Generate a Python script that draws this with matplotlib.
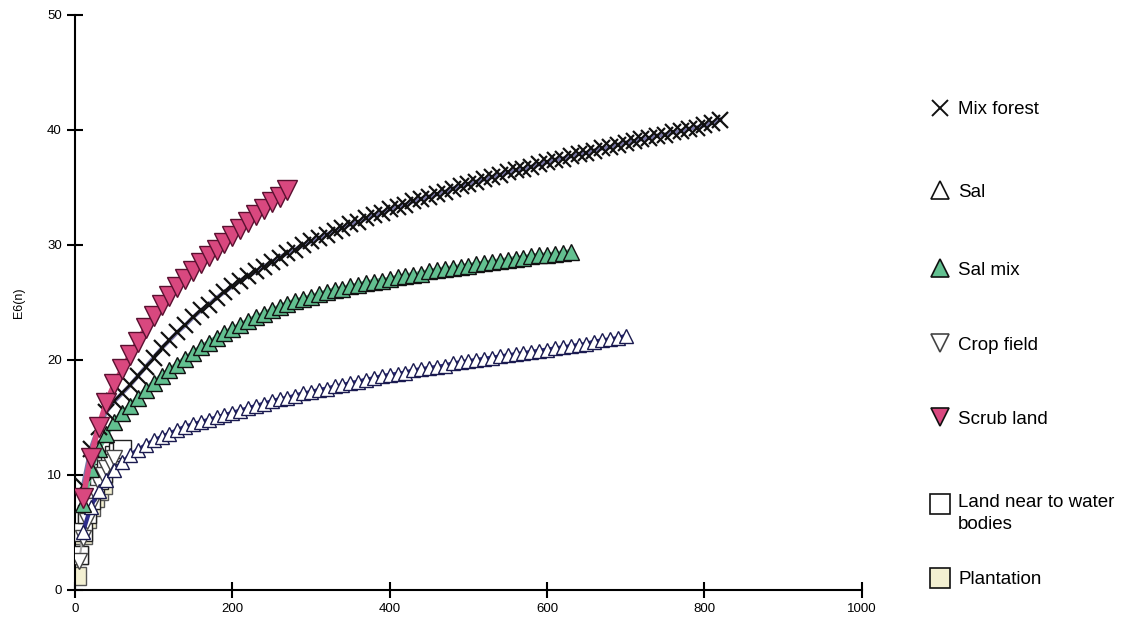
import matplotlib
matplotlib.use("Agg")
from matplotlib import pyplot as plt
from matplotlib.lines import Line2D

plt.rcParams['font.family'] = ['Liberation Sans', 'DejaVu Sans']

# sample size n (step 10) and expected species E(n)
mix_n = list(range(10, 830, 10))
mix_e = [9.0, 12.3, 14.2, 15.5, 16.4, 17.1, 17.8, 18.6, 19.4, 20.2,
         21.0, 21.7, 22.4, 23.0, 23.7, 24.3, 24.8, 25.4, 25.9, 26.4,
         26.9, 27.3, 27.7, 28.1, 28.5, 28.9, 29.3, 29.6, 30.0, 30.3,
         30.6, 30.9, 31.2, 31.5, 31.8, 32.0, 32.3, 32.6, 32.8, 33.1,
         33.3, 33.5, 33.8, 34.0, 34.2, 34.4, 34.6, 34.9, 35.1, 35.3,
         35.5, 35.7, 35.9, 36.1, 36.3, 36.5, 36.6, 36.8, 37.0, 37.2,
         37.4, 37.5, 37.7, 37.9, 38.0, 38.2, 38.4, 38.5, 38.7, 38.9,
         39.0, 39.2, 39.3, 39.5, 39.6, 39.8, 39.9, 40.1, 40.2, 40.4,
         40.6, 40.9]

salmix_n = list(range(10, 640, 10))
salmix_e = [7.5, 10.5, 12.3, 13.6, 14.6, 15.4, 16.0, 16.7, 17.4, 18.0,
            18.6, 19.1, 19.6, 20.1, 20.6, 21.1, 21.5, 21.9, 22.3, 22.7,
            23.0, 23.4, 23.7, 24.0, 24.3, 24.6, 24.9, 25.1, 25.3, 25.5,
            25.7, 25.9, 26.1, 26.2, 26.4, 26.5, 26.7, 26.8, 26.9, 27.0,
            27.2, 27.3, 27.4, 27.5, 27.7, 27.8, 27.9, 28.0, 28.1, 28.2,
            28.3, 28.4, 28.5, 28.6, 28.7, 28.8, 28.9, 29.0, 29.1, 29.1,
            29.2, 29.3, 29.4]

sal_n = list(range(10, 710, 10))
sal_e = [5.0, 7.2, 8.6, 9.6, 10.4, 11.1, 11.7, 12.2, 12.6, 13.0,
         13.3, 13.6, 13.9, 14.2, 14.4, 14.6, 14.8, 15.0, 15.2, 15.4,
         15.6, 15.8, 16.0, 16.2, 16.4, 16.6, 16.7, 16.9, 17.1, 17.2,
         17.4, 17.5, 17.7, 17.8, 18.0, 18.1, 18.3, 18.4, 18.6, 18.7,
         18.8, 18.9, 19.1, 19.2, 19.3, 19.4, 19.5, 19.7, 19.8, 19.9,
         20.0, 20.1, 20.2, 20.3, 20.4, 20.5, 20.6, 20.7, 20.8, 20.9,
         21.0, 21.1, 21.2, 21.3, 21.4, 21.6, 21.7, 21.8, 21.9, 22.1]

scrub_n = list(range(10, 280, 10))
scrub_e = [8.0, 11.5, 14.2, 16.3, 17.9, 19.2, 20.4, 21.6, 22.8, 23.8,
           24.8, 25.6, 26.3, 27.0, 27.7, 28.4, 29.0, 29.6, 30.2, 30.8,
           31.4, 32.0, 32.6, 33.1, 33.7, 34.2, 34.8]

crop_n = [5, 10, 15, 20, 25, 30, 35, 40, 45, 50]
crop_e = [2.5, 4.5, 6.0, 7.3, 8.4, 9.3, 10.0, 10.6, 11.1, 11.5]

water_n = [5, 10, 15, 20, 25, 30, 35, 40, 45, 50, 55, 60]
water_e = [3.0, 5.0, 6.6, 7.8, 8.8, 9.6, 10.2, 10.8, 11.3, 11.7, 12.0, 12.3]

plant_n = [2, 5, 10, 15, 20, 25, 30, 35]
plant_e = [1.2, 3.0, 4.8, 6.2, 7.2, 8.0, 8.6, 9.1]

labels = ['Mix forest', 'Sal', 'Sal mix', 'Crop field', 'Scrub land',
          'Land near to water\nbodies', 'Plantation']

pink = '#d9487f'
green = '#62c090'
navy = '#2e2e8c'
cream = '#f3f0d2'

fig = plt.figure(figsize=(11.24, 6.39), dpi=100)
ax = fig.add_axes([0.0667, 0.0767, 0.70, 0.90])

ax.plot(plant_n, plant_e, marker='s', ms=13, color='#b8b8a0', lw=1.5,
        mfc=cream, mec='#555555', mew=1, zorder=2)
ax.plot(water_n, water_e, marker='s', ms=13, color='#999999', lw=1.5,
        mfc='white', mec='#222222', mew=1, zorder=3)
ax.plot(crop_n, crop_e, marker='v', ms=12, color='#aaaaaa', lw=1.5,
        mfc='white', mec='#444444', mew=1, zorder=3)
ax.plot(sal_n, sal_e, marker='^', ms=10, color=navy, lw=3,
        mfc='white', mec='#1a1a50', mew=1, zorder=4)
ax.plot(salmix_n, salmix_e, marker='^', ms=12, color=green, lw=4,
        mfc=green, mec='#111111', mew=1, zorder=5)
ax.plot(mix_n, mix_e, marker='x', ms=11, color='#7a78a8', lw=3,
        mec='#111111', mew=1.6, zorder=6)
ax.plot(scrub_n, scrub_e, marker='v', ms=15, color=pink, lw=4,
        mfc=pink, mec='#5a1030', mew=1, zorder=7)

ax.set_xlim(0, 1000)
ax.set_ylim(0, 50)
ax.set_xticks([0, 200, 400, 600, 800, 1000])
ax.set_yticks([0, 10, 20, 30, 40, 50])
ax.spines['top'].set_visible(False)
ax.spines['right'].set_visible(False)
ax.spines['left'].set_linewidth(1.5)
ax.spines['bottom'].set_linewidth(1.5)
ax.tick_params(direction='inout', length=12, width=1.5, labelsize=9.5)
ax.set_ylabel('E6(n)', fontsize=9, labelpad=16)

# legend drawn by hand so the rows sit where the original has them
H = 639.0
legend_rows = [
    (108, dict(marker='x', ms=12, mec='#111111', mew=1.4)),
    (190, dict(marker='^', ms=13, mfc='white', mec='#111111', mew=1.2)),
    (268, dict(marker='^', ms=13, mfc=green, mec='#111111', mew=1.2)),
    (343, dict(marker='v', ms=13, mfc='white', mec='#444444', mew=1.2)),
    (417, dict(marker='v', ms=13, mfc=pink, mec='#111111', mew=1.2)),
    (504, dict(marker='s', ms=14, mfc='white', mec='#111111', mew=1.2)),
    (578, dict(marker='s', ms=14, mfc=cream, mec='#111111', mew=1.2)),
]
for (ypx, style), lab in zip(legend_rows, labels):
    yf = 1 - ypx / H
    fig.add_artist(Line2D([940 / 1124.0], [yf], ls='none',
                          transform=fig.transFigure, **style))
    if '\n' in lab:
        fig.text(958 / 1124.0, yf + 10 / H, lab, fontsize=13.5,
                 va='top', ha='left', linespacing=1.4)
    else:
        fig.text(958 / 1124.0, yf - 2 / H, lab, fontsize=13.5,
                 va='center', ha='left')

fig.savefig('out.png', dpi=100)
